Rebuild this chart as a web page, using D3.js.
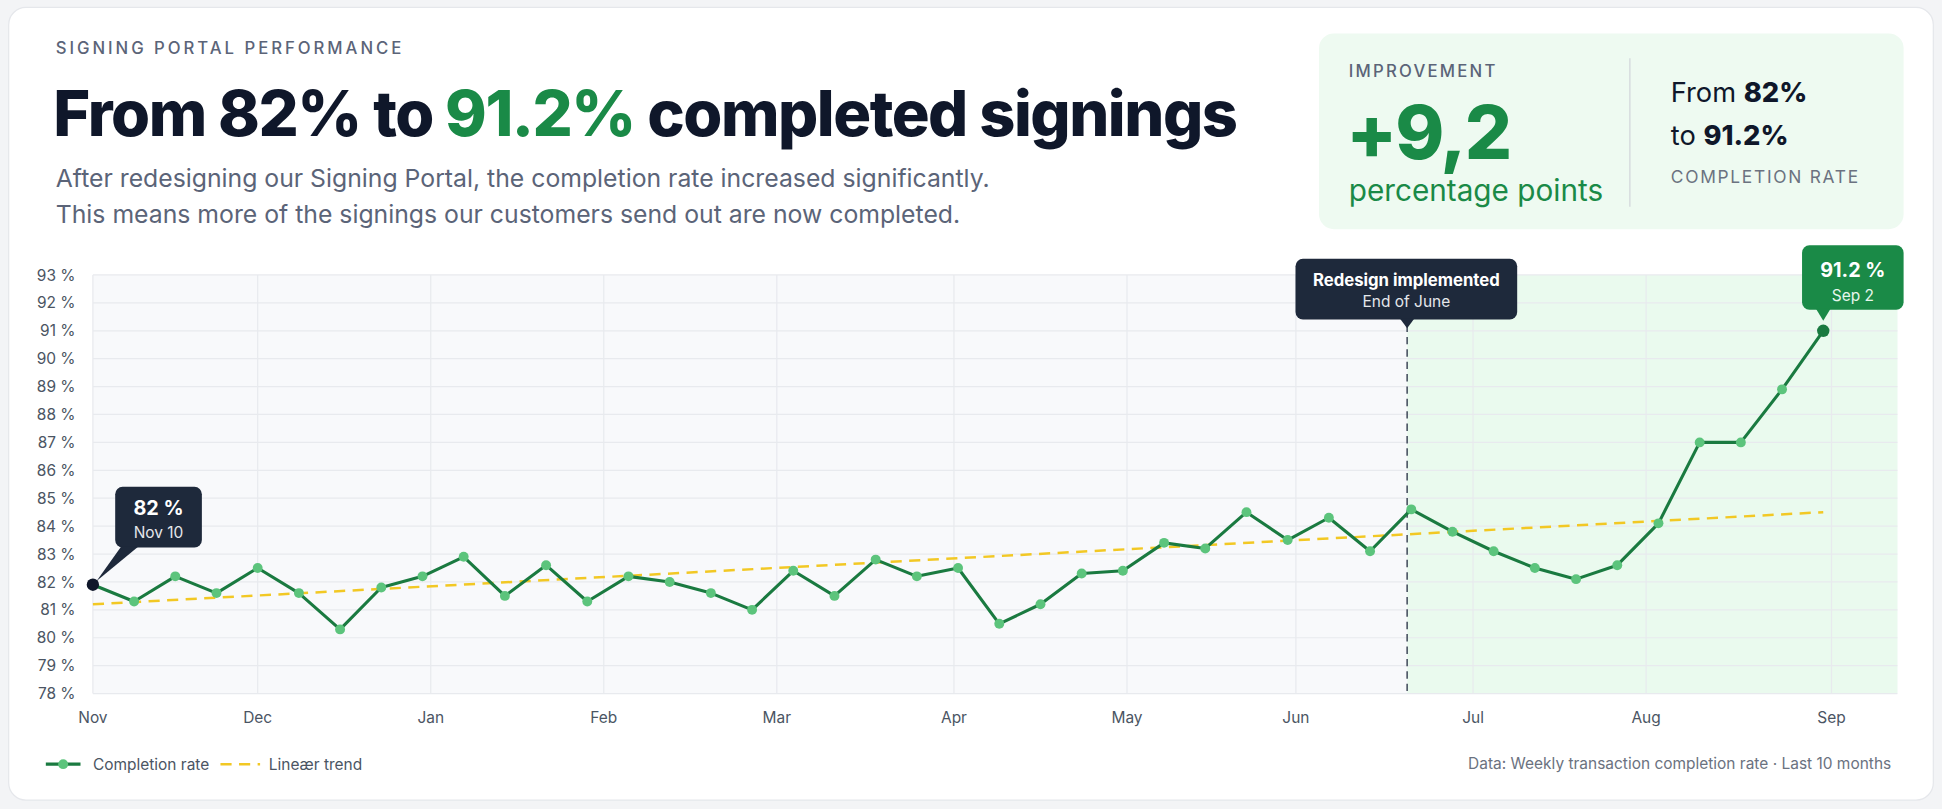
<!DOCTYPE html>
<html><head><meta charset="utf-8">
<script src="https://cdn.jsdelivr.net/npm/d3@7"></script>
<style>html,body{margin:0;padding:0;background:#f3f4f6;}svg{display:block;font-family:Inter,"Noto Sans",sans-serif;}</style>
</head><body><div id="c"></div>
<script>
const values = [81.9,81.3,82.2,81.6,82.5,81.6,80.3,81.8,82.2,82.9,81.5,82.6,81.3,82.2,82.0,81.6,81.0,82.4,81.5,82.8,82.2,82.5,80.5,81.2,82.3,82.4,83.4,83.2,84.5,83.5,84.3,83.1,84.6,83.8,83.1,82.5,82.1,82.6,84.1,87.0,87.0,88.9,91.0];
const monthLabels = ["Nov","Dec","Jan","Feb","Mar","Apr","May","Jun","Jul","Aug","Sep"];
const monthWeeks = [0,4.0,8.2,12.4,16.6,20.9,25.1,29.2,33.5,37.7,42.2];
const yTicks = [78,79,80,81,82,83,84,85,86,87,88,89,90,91,92,93];
const trendStart = 81.2, trendEnd = 84.5;
const redesignWeek = 31.9;
const weekMax = 43.8;

const W=1568,H=653.2;
const svg=d3.select("#c").append("svg").attr("width",1942).attr("height",809).attr("viewBox",`0 0 ${W} ${H}`);
svg.append("rect").attr("x",7).attr("y",6).attr("width",1554).attr("height",640).attr("rx",14).attr("fill","#fff").attr("stroke","#e5e7eb");

// header
svg.append("text").attr("x",45).attr("y",44).text("SIGNING PORTAL PERFORMANCE").attr("font-size",13.5).attr("letter-spacing",2.4).attr("fill","#5b6478").attr("font-weight",500);
const t=svg.append("text").attr("x",43).attr("y",110).attr("font-size",51).attr("font-weight",800).attr("fill","#0f172a").attr("letter-spacing",-1.2);
t.append("tspan").text("From 82% to ");t.append("tspan").text("91.2%").attr("fill","#1a8a47");t.append("tspan").text(" completed signings");
svg.append("text").attr("x",45).attr("y",151).text("After redesigning our Signing Portal, the completion rate increased significantly.").attr("font-size",20).attr("fill","#5b6478");
svg.append("text").attr("x",45).attr("y",180).text("This means more of the signings our customers send out are now completed.").attr("font-size",20).attr("fill","#5b6478");

// KPI box
svg.append("rect").attr("x",1065).attr("y",27).attr("width",472).attr("height",158).attr("rx",12).attr("fill","#eefaf1");
svg.append("text").attr("x",1089).attr("y",62).text("IMPROVEMENT").attr("font-size",13.5).attr("letter-spacing",1.8).attr("fill","#5b6478").attr("font-weight",500);
svg.append("text").attr("x",1087).attr("y",128).text("+9,2").attr("font-size",60).attr("font-weight",800).attr("fill","#1a8a47").attr("letter-spacing",-1.5);
svg.append("text").attr("x",1089).attr("y",162).text("percentage points").attr("font-size",24).attr("fill","#1a8a47");
svg.append("line").attr("x1",1316).attr("x2",1316).attr("y1",47).attr("y2",167).attr("stroke","#d1d5db");
const f1=svg.append("text").attr("x",1349).attr("y",82).attr("font-size",22).attr("fill","#0f172a");
f1.append("tspan").text("From ");f1.append("tspan").text("82%").attr("font-weight",800);
const f2=svg.append("text").attr("x",1349).attr("y",117).attr("font-size",22).attr("fill","#0f172a");
f2.append("tspan").text("to ");f2.append("tspan").text("91.2%").attr("font-weight",800);
svg.append("text").attr("x",1349).attr("y",148).text("COMPLETION RATE").attr("font-size",14).attr("letter-spacing",1.4).attr("fill","#6b7280");

// chart
const x=d3.scaleLinear().domain([0,weekMax]).range([75,1532]);
const y=d3.scaleLinear().domain([78,93]).range([560,222]);
const g=svg.append("g");
g.append("rect").attr("x",x(0)).attr("y",y(93)).attr("width",x(weekMax)-x(0)).attr("height",y(78)-y(93)).attr("fill","#f8f9fb");
g.append("rect").attr("x",x(redesignWeek)).attr("y",y(93)).attr("width",x(weekMax)-x(redesignWeek)).attr("height",y(78)-y(93)).attr("fill","#eafaee");
g.selectAll(".hg").data(yTicks).join("line").attr("x1",x(0)).attr("x2",x(weekMax)).attr("y1",d=>y(d)).attr("y2",d=>y(d)).attr("stroke","#e8eaee");
g.selectAll(".vg").data(monthWeeks).join("line").attr("x1",d=>x(d)).attr("x2",d=>x(d)).attr("y1",y(93)).attr("y2",y(78)).attr("stroke","#e8eaee");
g.selectAll(".yl").data(yTicks).join("text").attr("x",61).attr("y",d=>y(d)+4.5).attr("text-anchor","end").text(d=>d+" %").attr("font-size",12.5).attr("fill","#4b5563");
g.selectAll(".xl").data(monthLabels).join("text").attr("x",(d,i)=>x(monthWeeks[i])).attr("y",584).attr("text-anchor","middle").text(d=>d).attr("font-size",12.5).attr("fill","#4b5563");

// trend
g.append("line").attr("x1",x(0)).attr("x2",x(values.length-1)).attr("y1",y(trendStart)).attr("y2",y(trendEnd)).attr("stroke","#f2c824").attr("stroke-width",2).attr("stroke-dasharray","9,6");
// redesign line
g.append("line").attr("x1",x(redesignWeek)).attr("x2",x(redesignWeek)).attr("y1",262).attr("y2",y(78)).attr("stroke","#4b5563").attr("stroke-width",1.3).attr("stroke-dasharray","6,4");
// series
g.append("path").datum(values).attr("d",d3.line().x((d,i)=>x(i)).y(d=>y(d))).attr("fill","none").attr("stroke","#1a7a40").attr("stroke-width",2.5).attr("stroke-linejoin","round");
g.selectAll(".pt").data(values).join("circle").attr("cx",(d,i)=>x(i)).attr("cy",d=>y(d)).attr("r",4).attr("fill","#5cc47c");
const last=values.length-1;
g.append("circle").attr("cx",x(0)).attr("cy",y(values[0])).attr("r",5).attr("fill","#0f172a");
g.append("circle").attr("cx",x(last)).attr("cy",y(values[last])).attr("r",5).attr("fill","#1a7a40");

// annotations
function box(x0,y0,w,h,fill,px,py,tipX){
  g.append("rect").attr("x",x0).attr("y",y0).attr("width",w).attr("height",h).attr("rx",6).attr("fill",fill);
  g.append("path").attr("d",`M${tipX-6},${y0+h-1} L${px},${py} L${tipX+6},${y0+h-1}Z`).attr("fill",fill);
}
box(1046,209,179,49,"#1e293b",x(redesignWeek),265,x(redesignWeek));
g.append("text").attr("x",1135.5).attr("y",231).attr("text-anchor","middle").text("Redesign implemented").attr("font-size",13.5).attr("font-weight",700).attr("fill","#fff");
g.append("text").attr("x",1135.5).attr("y",248).attr("text-anchor","middle").text("End of June").attr("font-size",12.5).attr("fill","#e5e7eb");
box(1455,198,82,52,"#1a8a47",x(last),y(values[last])-8,x(last));
g.append("text").attr("x",1496).attr("y",224).attr("text-anchor","middle").text("91.2 %").attr("font-size",16).attr("font-weight",700).attr("fill","#fff");
g.append("text").attr("x",1496).attr("y",243).attr("text-anchor","middle").text("Sep 2").attr("font-size",12.5).attr("fill","#e7f7ec");
g.append("rect").attr("x",93).attr("y",393).attr("width",70).attr("height",49).attr("rx",6).attr("fill","#1e293b");
g.append("path").attr("d",`M98,441 L${x(0)+3},${y(values[0])-3} L112,441Z`).attr("fill","#1e293b");
g.append("text").attr("x",128).attr("y",416).attr("text-anchor","middle").text("82 %").attr("font-size",16).attr("font-weight",700).attr("fill","#fff");
g.append("text").attr("x",128).attr("y",434).attr("text-anchor","middle").text("Nov 10").attr("font-size",12.5).attr("fill","#e5e7eb");

// legend
svg.append("line").attr("x1",37).attr("x2",65).attr("y1",617).attr("y2",617).attr("stroke","#1a7a40").attr("stroke-width",2.5);
svg.append("circle").attr("cx",51).attr("cy",617).attr("r",4).attr("fill","#5cc47c");
svg.append("text").attr("x",75).attr("y",622).text("Completion rate").attr("font-size",12.5).attr("fill","#4b5563");
svg.append("line").attr("x1",178).attr("x2",210).attr("y1",617).attr("y2",617).attr("stroke","#f2c824").attr("stroke-width",2).attr("stroke-dasharray","9,6");
svg.append("text").attr("x",217).attr("y",622).text("Lineær trend").attr("font-size",12.5).attr("fill","#4b5563");
svg.append("text").attr("x",1527).attr("y",621).attr("text-anchor","end").text("Data: Weekly transaction completion rate · Last 10 months").attr("font-size",12.5).attr("fill","#6b7280");
</script></body></html>
